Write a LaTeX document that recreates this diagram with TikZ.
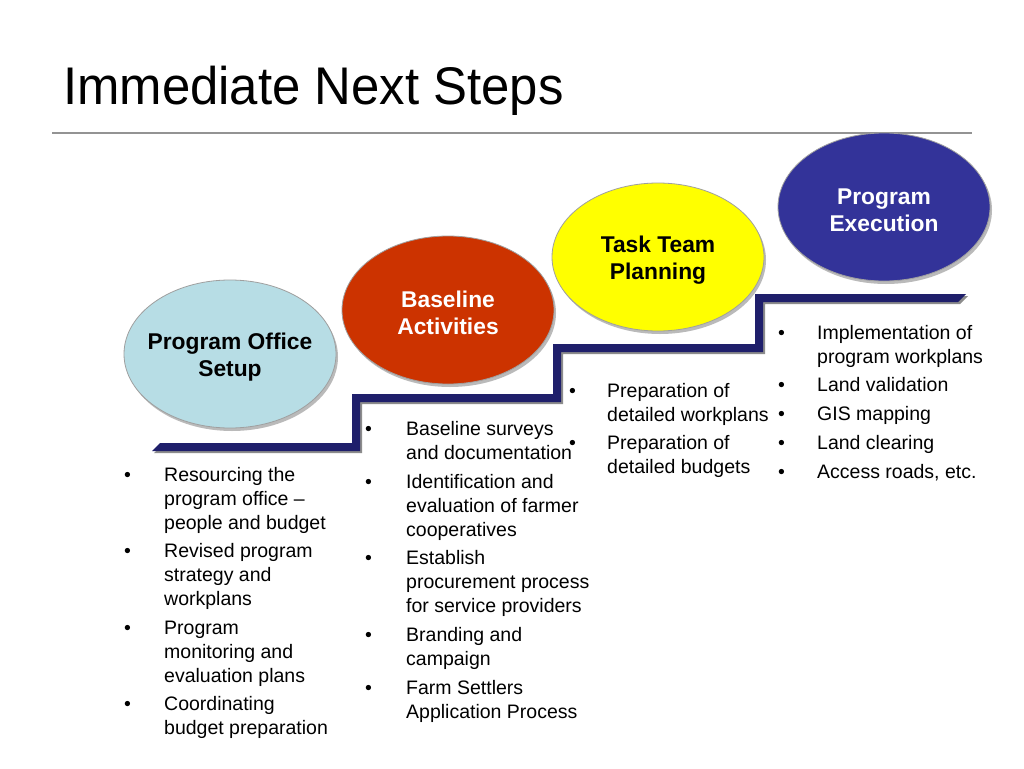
\documentclass[tikz,border=0pt]{standalone}
\usepackage{fontspec}
\setmainfont{Liberation Sans}
\newfontfamily\titlefont[FakeStretch=0.96]{Liberation Sans}
\usetikzlibrary{shapes.geometric,shadows}
\definecolor{stepnavy}{HTML}{1F1F6B}
\definecolor{phaseblue}{HTML}{B7DDE5}
\definecolor{phasered}{HTML}{CC3300}
\definecolor{phaseyellow}{HTML}{FFFF00}
\definecolor{phasenavy}{HTML}{333399}
\begin{document}
\begin{tikzpicture}[x=1pt,y=-1pt,
  phase/.style={ellipse, minimum width=212pt, minimum height=148pt, inner sep=0pt,
    draw=gray!75, line width=0.8pt,
    drop shadow={shadow xshift=2pt, shadow yshift=-3pt, opacity=0.45, fill=black!60}},
  phasetext/.style={align=center, inner sep=0pt, font=\bfseries\fontsize{22.8}{27}\selectfont},
  item/.style={anchor=base west, inner sep=0pt, font=\fontsize{19.5}{24}\selectfont}]
\useasboundingbox (0,0) rectangle (1024,768);
\fill[white] (0,0) rectangle (1024,768);
% title
\node[anchor=base west, inner sep=0pt, font=\titlefont\fontsize{53}{60}\selectfont] (title) at (63,104) {Immediate Next Steps};
\draw[gray!85, line width=1.5pt] (52,133) -- (972,133);
% staircase
\fill[black!45] (154,453) -- (362,453) -- (362,404) -- (563,404) -- (563,354) -- (765,354) -- (765,304) -- (960,304) -- (968,296) -- (757,296) -- (757,346) -- (555,346) -- (555,396) -- (354,396) -- (354,445) -- (162,445) -- cycle;
\fill[stepnavy] (152,451) -- (360,451) -- (360,402) -- (561,402) -- (561,352) -- (763,352) -- (763,302) -- (958,302) -- (966,294) -- (755,294) -- (755,344) -- (553,344) -- (553,394) -- (352,394) -- (352,443) -- (160,443) -- cycle;
% phases
\node[phase, fill=phaseblue] (office) at (230,354) {};
\node[phasetext] (officetext) at ([yshift=-3pt]office.center) {Program Office\\Setup};
\node[phase, fill=phasered] (baseline) at (448,310) {};
\node[phasetext, text=white] (baselinetext) at ([yshift=-3pt]baseline.center) {Baseline\\Activities};
\node[phase, fill=phaseyellow] (task) at (658,257) {};
\node[phasetext] (tasktext) at ([yshift=-3pt]task.center) {Task Team\\Planning};
\node[phase, fill=phasenavy] (exec) at (884,207) {};
\node[phasetext, text=white] (exectext) at ([yshift=-3pt]exec.center) {Program\\Execution};
% column 1
\node[item] (b1a) at (124,481) {•};
\node[item] (t1a) at (164,481) {\parbox[t]{250pt}{Resourcing the\\program office –\\people and budget}};
\node[item] (b1b) at (124,557) {•};
\node[item] (t1b) at (164,557) {\parbox[t]{250pt}{Revised program\\strategy and\\workplans}};
\node[item] (b1c) at (124,634) {•};
\node[item] (t1c) at (164,634) {\parbox[t]{250pt}{Program\\monitoring and\\evaluation plans}};
\node[item] (b1d) at (124,710) {•};
\node[item] (t1d) at (164,710) {\parbox[t]{250pt}{Coordinating\\budget preparation}};
% column 2
\node[item] (b2a) at (365,435) {•};
\node[item] (t2a) at (406,435) {\parbox[t]{250pt}{Baseline surveys\\and documentation}};
\node[item] (b2b) at (365,488) {•};
\node[item] (t2b) at (406,488) {\parbox[t]{250pt}{Identification and\\evaluation of farmer\\cooperatives}};
\node[item] (b2c) at (365,564) {•};
\node[item] (t2c) at (406,564) {\parbox[t]{250pt}{Establish\\procurement process\\for service providers}};
\node[item] (b2d) at (365,641) {•};
\node[item] (t2d) at (406,641) {\parbox[t]{250pt}{Branding and\\campaign}};
\node[item] (b2e) at (365,694) {•};
\node[item] (t2e) at (406,694) {\parbox[t]{250pt}{Farm Settlers\\Application Process}};
% column 3
\node[item] (b3a) at (569,397) {•};
\node[item] (t3a) at (607,397) {\parbox[t]{250pt}{Preparation of\\detailed workplans}};
\node[item] (b3b) at (569,449) {•};
\node[item] (t3b) at (607,449) {\parbox[t]{250pt}{Preparation of\\detailed budgets}};
% column 4
\node[item] (b4a) at (778,339) {•};
\node[item] (t4a) at (817,339) {\parbox[t]{250pt}{Implementation of\\program workplans}};
\node[item] (b4b) at (778,391) {•};
\node[item] (t4b) at (817,391) {Land validation};
\node[item] (b4c) at (778,420) {•};
\node[item] (t4c) at (817,420) {GIS mapping};
\node[item] (b4d) at (778,449) {•};
\node[item] (t4d) at (817,449) {Land clearing};
\node[item] (b4e) at (778,478) {•};
\node[item] (t4e) at (817,478) {Access roads, etc.};
\end{tikzpicture}
\end{document}
